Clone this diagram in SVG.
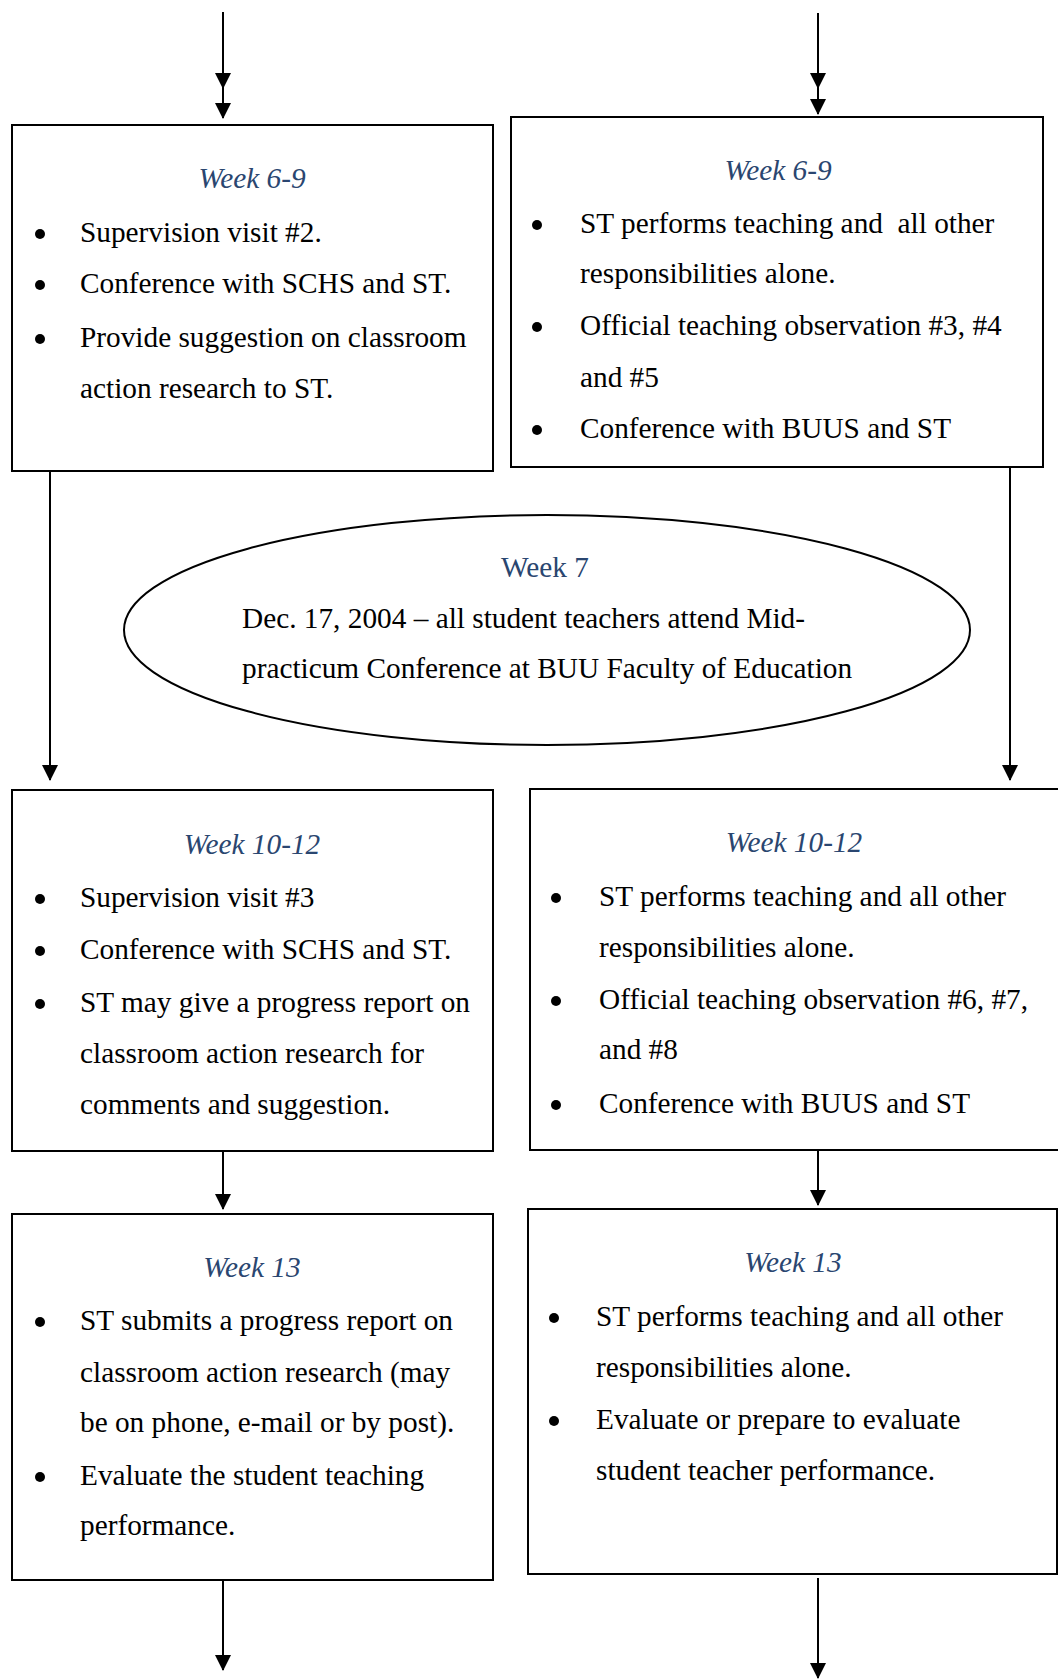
<svg xmlns="http://www.w3.org/2000/svg" width="1058" height="1679" viewBox="0 0 1058 1679">
<style>
.box{fill:#fff;stroke:#000;stroke-width:2}
.t{font-family:"Liberation Serif","Times New Roman",serif;font-size:29.3px;fill:#000}
.h{font-family:"Liberation Serif","Times New Roman",serif;font-size:29.3px;fill:#2A4670;text-anchor:middle}
.i{font-style:italic}
.b{fill:#000}
.c{fill:none;stroke:#000;stroke-width:2}
</style>
<defs>
<marker id="ah" markerUnits="userSpaceOnUse" markerWidth="16" markerHeight="16" viewBox="0 0 16 16" refX="15" refY="8" orient="auto">
<path d="M0,0 L16,8 L0,16 Z" fill="#000"/>
</marker>
</defs>
<rect width="1058" height="1679" fill="#fff"/>
<g id="connectors">
<path class="c" d="M223,12 L223,88 L223,118" marker-mid="url(#ah)" marker-end="url(#ah)"/>
<path class="c" d="M818,13 L818,88 L818,114" marker-mid="url(#ah)" marker-end="url(#ah)"/>
<path class="c" d="M50,471 L50,780" marker-end="url(#ah)"/>
<path class="c" d="M1010,467 L1010,780" marker-end="url(#ah)"/>
<path class="c" d="M223,1151 L223,1209" marker-end="url(#ah)"/>
<path class="c" d="M818,1148 L818,1205" marker-end="url(#ah)"/>
<path class="c" d="M223,1580 L223,1670" marker-end="url(#ah)"/>
<path class="c" d="M818,1578 L818,1678" marker-end="url(#ah)"/>
</g>
<g id="box1">
<rect class="box" x="12" y="125" width="481" height="346"/>
<text class="h i" x="252" y="188">Week 6-9</text>
<circle class="b" cx="40" cy="234" r="5"/>
<text class="t" x="80" y="242">Supervision visit #2.</text>
<circle class="b" cx="40" cy="285" r="5"/>
<text class="t" x="80" y="293">Conference with SCHS and ST.</text>
<circle class="b" cx="40" cy="339" r="5"/>
<text class="t" x="80" y="347">Provide suggestion on classroom</text>
<text class="t" x="80" y="398">action research to ST.</text>
</g>
<g id="box2">
<rect class="box" x="511" y="117" width="532" height="350"/>
<text class="h i" x="778" y="180">Week 6-9</text>
<circle class="b" cx="537" cy="225" r="5"/>
<text class="t" x="580" y="233" style="white-space:pre">ST performs teaching and  all other</text>
<text class="t" x="580" y="283">responsibilities alone.</text>
<circle class="b" cx="537" cy="327" r="5"/>
<text class="t" x="580" y="335">Official teaching observation #3, #4</text>
<text class="t" x="580" y="387">and #5</text>
<circle class="b" cx="537" cy="430" r="5"/>
<text class="t" x="580" y="438">Conference with BUUS and ST</text>
</g>
<g id="week7">
<ellipse class="box" cx="547" cy="630" rx="423" ry="115"/>
<text class="h" x="545" y="577">Week 7</text>
<text class="t" x="242" y="628">Dec. 17, 2004 – all student teachers attend Mid-</text>
<text class="t" x="242" y="678">practicum Conference at BUU Faculty of Education</text>
</g>
<g id="box3">
<rect class="box" x="12" y="790" width="481" height="361"/>
<text class="h i" x="252" y="854">Week 10-12</text>
<circle class="b" cx="40" cy="899" r="5"/>
<text class="t" x="80" y="907">Supervision visit #3</text>
<circle class="b" cx="40" cy="951" r="5"/>
<text class="t" x="80" y="959">Conference with SCHS and ST.</text>
<circle class="b" cx="40" cy="1004" r="5"/>
<text class="t" x="80" y="1012">ST may give a progress report on</text>
<text class="t" x="80" y="1063">classroom action research for</text>
<text class="t" x="80" y="1114">comments and suggestion.</text>
</g>
<g id="box4">
<rect class="box" x="530" y="789" width="532" height="361"/>
<text class="h i" x="794" y="852">Week 10-12</text>
<circle class="b" cx="556" cy="898" r="5"/>
<text class="t" x="599" y="906">ST performs teaching and all other</text>
<text class="t" x="599" y="957">responsibilities alone.</text>
<circle class="b" cx="556" cy="1001" r="5"/>
<text class="t" x="599" y="1009">Official teaching observation #6, #7,</text>
<text class="t" x="599" y="1059">and #8</text>
<circle class="b" cx="556" cy="1105" r="5"/>
<text class="t" x="599" y="1113">Conference with BUUS and ST</text>
</g>
<g id="box5">
<rect class="box" x="12" y="1214" width="481" height="366"/>
<text class="h i" x="252" y="1277">Week 13</text>
<circle class="b" cx="40" cy="1322" r="5"/>
<text class="t" x="80" y="1330">ST submits a progress report on</text>
<text class="t" x="80" y="1382">classroom action research (may</text>
<text class="t" x="80" y="1432">be on phone, e-mail or by post).</text>
<circle class="b" cx="40" cy="1477" r="5"/>
<text class="t" x="80" y="1485">Evaluate the student teaching</text>
<text class="t" x="80" y="1535">performance.</text>
</g>
<g id="box6">
<rect class="box" x="528" y="1209" width="529" height="365"/>
<text class="h i" x="793" y="1272">Week 13</text>
<circle class="b" cx="554" cy="1318" r="5"/>
<text class="t" x="596" y="1326">ST performs teaching and all other</text>
<text class="t" x="596" y="1377">responsibilities alone.</text>
<circle class="b" cx="554" cy="1421" r="5"/>
<text class="t" x="596" y="1429">Evaluate or prepare to evaluate</text>
<text class="t" x="596" y="1480">student teacher performance.</text>
</g>
</svg>
